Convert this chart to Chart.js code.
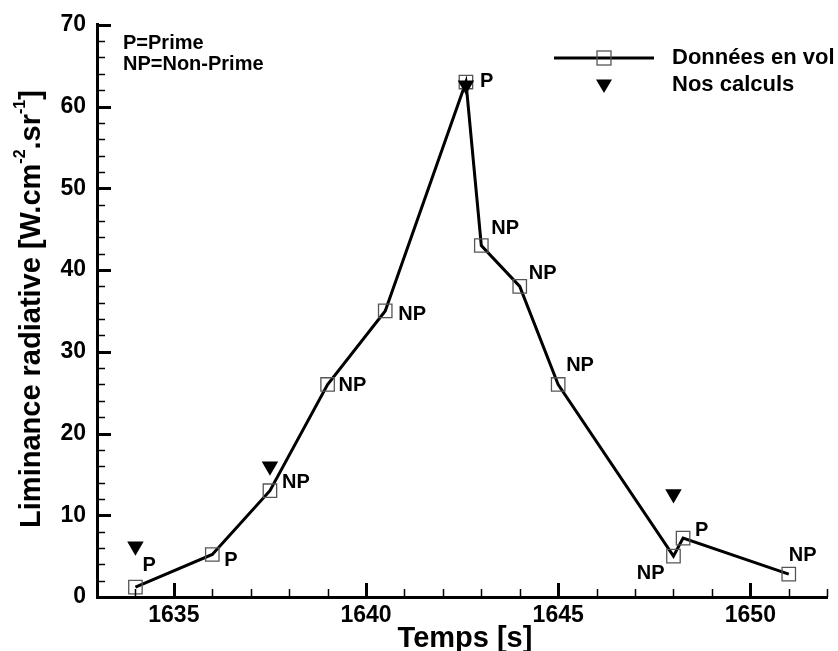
<!DOCTYPE html>
<html>
<head>
<meta charset="utf-8">
<script src="https://cdn.jsdelivr.net/npm/chart.js@4.4.1/dist/chart.umd.min.js"></script>
<style>
  html, body { margin: 0; padding: 0; background: #fff; }
  #wrap { width: 838px; height: 651px; position: relative; }
</style>
</head>
<body>
<div id="wrap"><canvas id="luminanceChart"></canvas></div>
<script>
// Données en vol (temps en s, luminance)
const volTemps = [1634, 1636, 1637.5, 1639, 1640.5, 1642.6, 1643, 1644, 1645, 1648, 1648.25, 1651];
const volLum = [1.2, 5.2, 13, 26, 35, 63, 43, 38, 26, 5, 7.2, 2.8];
const volType = ['P', 'P', 'NP', 'NP', 'NP', 'P', 'NP', 'NP', 'NP', 'NP', 'P', 'NP'];

// Nos calculs
const calcTemps = [1634, 1637.5, 1642.6, 1648];
const calcLum = [6.2, 16, 62.6, 12.6];

// axes
const xMin = 1633, xMax = 1652, xStep = 5;
const yMin = 0, yMax = 70, yStep = 10;

const FONT = '"Liberation Sans", Arial, Helvetica, sans-serif';

// position des étiquettes P / NP autour de chaque point (px)
const labelOffsets = [
    [7, -22, 'left'], [12, 6, 'left'], [12, -8, 'left'], [11, 1, 'left'],
    [13, 4, 'left'], [14, -1, 'left'], [10, -17, 'left'], [9, -13, 'left'],
    [8, -19, 'left'], [-9, 17, 'right'], [12, -8, 'left'], [0, -19, 'left']
];

const volData = volTemps.map((t, i) => ({ x: t, y: volLum[i] }));
const calcData = calcTemps.map((t, i) => ({ x: t, y: calcLum[i] }));

// ticks intérieurs, étiquettes, titre Y avec exposants, légende
const decorPlugin = {
    id: 'decor',
    afterDatasetsDraw(chart) {
        const ctx = chart.ctx;
        const meta = chart.getDatasetMeta(0);
        ctx.save();
        ctx.fillStyle = '#000';
        ctx.font = 'bold 20px ' + FONT;
        ctx.textBaseline = 'middle';
        meta.data.forEach((pt, i) => {
            const off = labelOffsets[i];
            ctx.textAlign = off[2];
            ctx.fillText(volType[i], pt.x + off[0], pt.y + off[1]);
        });
        ctx.restore();
    },
    afterDraw(chart) {
        const ctx = chart.ctx;
        const xs = chart.scales.x, ys = chart.scales.y;
        const area = chart.chartArea;
        ctx.save();
        ctx.strokeStyle = '#000';

        // ticks Y (vers l'intérieur)
        for (let v = yMin; v <= yMax; v += 2) {
            const major = v % yStep === 0;
            const py = Math.round(ys.getPixelForValue(v)) + 0.5;
            ctx.lineWidth = major ? 3 : 1.5;
            ctx.beginPath();
            ctx.moveTo(area.left, py);
            ctx.lineTo(area.left + (major ? 14 : 8), py);
            ctx.stroke();
        }
        // ticks X
        for (let v = xMin; v <= xMax; v += 1) {
            const major = v % xStep === 0;
            const px = Math.round(xs.getPixelForValue(v)) + 0.5;
            ctx.lineWidth = major ? 3 : 1.5;
            ctx.beginPath();
            ctx.moveTo(px, area.bottom);
            ctx.lineTo(px, area.bottom - (major ? 14 : 8));
            ctx.stroke();
        }

        // titre Y avec exposants
        const parts = [
            ['Liminance radiative [W.cm', false], ['-2', true], ['.sr', false], ['-1', true], [']', false]
        ];
        const mainFont = 'bold 29px ' + FONT, supFont = 'bold 16px ' + FONT;
        let total = 0;
        parts.forEach(p => { ctx.font = p[1] ? supFont : mainFont; total += ctx.measureText(p[0]).width; });
        ctx.translate(32, 309);
        ctx.rotate(-Math.PI / 2);
        ctx.fillStyle = '#000';
        ctx.textAlign = 'left';
        ctx.textBaseline = 'middle';
        let cx = -total / 2;
        parts.forEach(p => {
            ctx.font = p[1] ? supFont : mainFont;
            ctx.fillText(p[0], cx, p[1] ? -11 : 0);
            cx += ctx.measureText(p[0]).width;
        });
        ctx.setTransform(1, 0, 0, 1, 0, 0);

        // titre X
        ctx.font = 'bold 29px ' + FONT;
        ctx.textAlign = 'center';
        ctx.textBaseline = 'middle';
        ctx.fillText('Temps [s]', 465, 639);

        // note P / NP
        ctx.font = 'bold 20px ' + FONT;
        ctx.textAlign = 'left';
        ctx.fillText('P=Prime', 123, 43);
        ctx.fillText('NP=Non-Prime', 123, 64);

        // légende
        ctx.lineWidth = 3;
        ctx.beginPath();
        ctx.moveTo(554, 58);
        ctx.lineTo(654, 58);
        ctx.stroke();
        ctx.lineWidth = 1.3;
        ctx.strokeStyle = '#555';
        ctx.strokeRect(597, 51, 14, 14);
        ctx.fillStyle = '#000';
        ctx.beginPath();
        ctx.moveTo(596, 79.5);
        ctx.lineTo(612, 79.5);
        ctx.lineTo(604, 93);
        ctx.closePath();
        ctx.fill();
        ctx.font = 'bold 22px ' + FONT;
        ctx.fillText('Données en vol', 672, 58);
        ctx.fillText('Nos calculs', 672, 85);
        ctx.restore();
    }
};

const ctx = document.getElementById('luminanceChart').getContext('2d');
const luminanceChart = new Chart(ctx, {
    type: 'scatter',
    data: {
        datasets: [{
            label: 'Données en vol',
            data: volData,
            showLine: true,
            borderColor: '#000',
            borderWidth: 3,
            tension: 0,
            pointStyle: 'rect',
            pointRadius: 9.5,
            pointHoverRadius: 9.5,
            pointBorderColor: '#555',
            pointBorderWidth: 1.3,
            pointBackgroundColor: 'rgba(0,0,0,0)',
            order: 1
        }, {
            label: 'Nos calculs',
            data: calcData,
            showLine: false,
            pointStyle: 'triangle',
            pointRotation: 180,
            pointRadius: 9.5,
            pointHoverRadius: 9.5,
            pointBackgroundColor: '#000',
            pointBorderColor: '#000',
            pointBorderWidth: 0,
            order: 0
        }]
    },
    options: {
        responsive: true,
        maintainAspectRatio: false,
        animation: false,
        events: [],
        layout: { padding: { top: 23, right: 4, left: 0, bottom: 0 } },
        scales: {
            x: {
                type: 'linear',
                min: xMin,
                max: xMax,
                grid: { display: false, drawTicks: false },
                border: { display: true, color: '#000', width: 3 },
                ticks: {
                    stepSize: xStep,
                    includeBounds: false,
                    color: '#000',
                    padding: 5,
                    font: { family: FONT, size: 23, weight: 'bold' },
                    callback: v => String(v)
                },
                afterFit(scale) { scale.height = 54; }
            },
            y: {
                type: 'linear',
                min: yMin,
                max: yMax,
                grid: { display: false, drawTicks: false },
                border: { display: true, color: '#000', width: 3 },
                ticks: {
                    stepSize: yStep,
                    color: '#000',
                    padding: 11,
                    font: { family: FONT, size: 23, weight: 'bold' }
                },
                afterFit(scale) { scale.width = 97; }
            }
        },
        plugins: {
            legend: { display: false },
            tooltip: { enabled: false },
            title: { display: false }
        }
    },
    plugins: [decorPlugin]
});
</script>
</body>
</html>
